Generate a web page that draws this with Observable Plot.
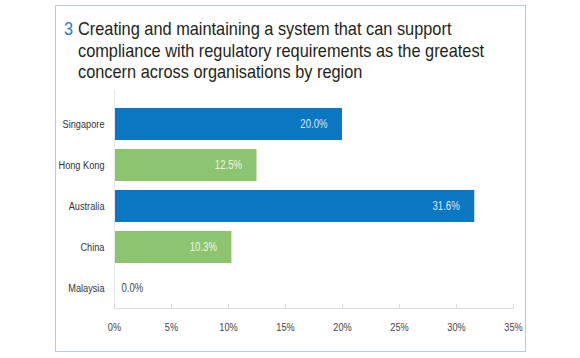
<!DOCTYPE html>
<html>
<head>
<meta charset="utf-8">
<script src="https://cdn.jsdelivr.net/npm/d3@7"></script>
<script src="https://cdn.jsdelivr.net/npm/@observablehq/plot@0.6"></script>
<style>
  html, body { margin: 0; padding: 0; background: #fff; }
  body { width: 580px; height: 358px; position: relative; overflow: hidden;
         font-family: "Liberation Sans", Arial, sans-serif; }
  #box { position: absolute; left: 55px; top: 5px; width: 469px; height: 345px;
         border: 1.5px solid #bccbd8; }
  #title { position: absolute; left: 64px; top: 18px; font-size: 19px; line-height: 21.5px;
           color: #231f20; white-space: nowrap; transform-origin: 0 0; }
  #title .num { color: #1f7cc2; position: absolute; left: 0; top: 0; }
  #chart { position: absolute; left: 0; top: 90px; }
</style>
</head>
<body>
<div id="box"></div>
<div id="title"></div>
<div id="chart"></div>
<script>
const titleNumber = "3";
const titleLines = [
  "Creating and maintaining a system that can support",
  "compliance with regulatory requirements as the greatest",
  "concern across organisations by region"
];
const regions = ["Singapore", "Hong Kong", "Australia", "China", "Malaysia"];
const values = [20.0, 12.5, 31.6, 10.3, 0.0];
const barColors = ["#0b77c2", "#8dc46f", "#0b77c2", "#8dc46f", "#8dc46f"];
const labelColors = ["#d6ebf9", "#eef7e8", "#d6ebf9", "#eef7e8", "#444444"];
const xTicks = [0, 5, 10, 15, 20, 25, 30, 35];

// Title (condensed look via horizontal scale)
const t = document.getElementById("title");
t.innerHTML = `<span class="num">${titleNumber}</span><div class="lines"></div>`;
const linesDiv = t.querySelector(".lines");
titleLines.forEach(l => { const d = document.createElement("div"); d.textContent = l; linesDiv.appendChild(d); });
let total = 0;
titleLines.forEach(l => {
  const probe = document.createElement("span");
  probe.textContent = l;
  probe.style.cssText = "position:absolute;visibility:hidden;font-size:19px;white-space:nowrap;";
  document.body.appendChild(probe);
  total += probe.getBoundingClientRect().width;
  probe.remove();
});
const titleScale = (387 + 388 + 289) / total;
t.style.transform = `scaleX(${titleScale})`;
linesDiv.style.marginLeft = (14 / titleScale) + "px";

const data = regions.map((r, i) => ({region: r, value: values[i], bar: barColors[i], lab: labelColors[i]}));
const inside = data.filter(d => d.value > 5);
const outside = data.filter(d => d.value <= 5);
const fmt = v => v.toFixed(1) + "%";

const plot = Plot.plot({
  width: 580,
  height: 250,
  marginLeft: 114,
  marginRight: 67,
  marginTop: 0,
  marginBottom: 32,
  style: {fontFamily: '"Liberation Sans", Arial, sans-serif', fontSize: "11px", color: "#333"},
  x: {domain: [0, 35], label: null},
  y: {domain: regions, range: [8.7, 223.3], paddingInner: 0.23, paddingOuter: 0.2, label: null},
  color: {type: "identity"},
  marks: [
    Plot.barX(data, {x: "value", y: "region", fill: "bar"}),
    Plot.frame({anchor: "bottom", stroke: "#d9dde0"}),
    Plot.ruleX([0], {stroke: "#e6e8ea"}),
    Plot.ruleX(xTicks, {x: d => d, insetTop: 214, stroke: "#d9dde0"}),
    Plot.axisX(xTicks, {tickSize: 0, tickPadding: 14, tickFormat: d => d + "%", fill: "#444", fontSize: 11.5, label: null}),
    Plot.axisY({tickSize: 0, tickPadding: 10, fill: "#333", fontSize: 11.5, label: null}),
    Plot.text(inside, {x: "value", y: "region", text: d => fmt(d.value), textAnchor: "end", dx: -15, fill: "lab", fontSize: 12}),
    Plot.text(outside, {x: "value", y: "region", text: d => fmt(d.value), textAnchor: "start", dx: 7, fill: "lab", fontSize: 12})
  ]
});
// condensed look for chart text, scaling about each label's anchor point
plot.querySelectorAll("text").forEach(el => {
  const tr = el.getAttribute("transform");
  el.setAttribute("transform", (tr ? tr + " " : "") + "scale(0.8,1)");
});
document.getElementById("chart").appendChild(plot);
</script>
</body>
</html>
